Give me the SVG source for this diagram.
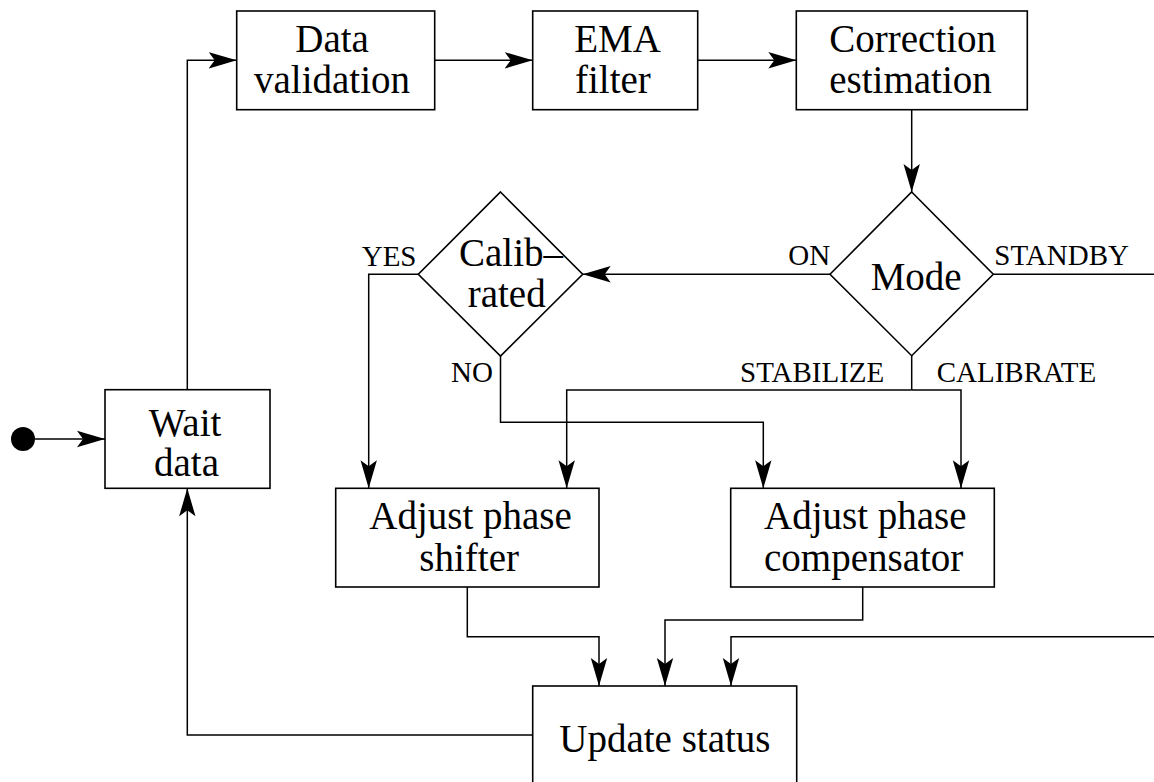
<svg xmlns="http://www.w3.org/2000/svg" width="1154" height="782" viewBox="0 0 1154 782">
<defs>
<style>
.box{fill:#fff;stroke:#000;stroke-width:1.6}
.t{font-family:"Liberation Serif","Times New Roman",serif;font-size:39px;fill:#000}
.l{font-family:"Liberation Serif","Times New Roman",serif;font-size:29px;fill:#000}
.c{fill:none;stroke:#000;stroke-width:1.5}
.a{marker-end:url(#arr)}
</style>
<marker id="arr" markerUnits="userSpaceOnUse" markerWidth="30" markerHeight="18" viewBox="0 0 30 18" refX="28" refY="9" orient="auto">
<path d="M0,0.8 L28,9 L0,17.2 L6,9 Z" fill="#000"/>
</marker>
</defs>
<rect width="1154" height="782" fill="#fff"/>
<g id="connectors">
<circle cx="23" cy="439" r="12" fill="#000"/>
<path class="c a" d="M35,439 H105"/>
<path class="c a" d="M187.3,389.7 V60.3 H236.7"/>
<path class="c a" d="M434.7,60.3 H532.7"/>
<path class="c a" d="M697.7,60.3 H796.3"/>
<path class="c a" d="M911.7,109.7 V192"/>
<path class="c a" d="M830,274.3 H582.7"/>
<path class="c" d="M993.3,274.3 H1160"/>
<path class="c a" d="M1160,636.7 H731 V686"/>
<path class="c" d="M911.7,355.7 V390"/>
<path class="c a" d="M911.7,390 H566.7 V488.3"/>
<path class="c a" d="M911.7,390 H961 V488.3"/>
<path class="c a" d="M418.3,274.3 H368.7 V488.3"/>
<path class="c a" d="M500.5,356 V422.3 H763.3 V488.3"/>
<path class="c a" d="M467.3,587 V636.7 H599 V686"/>
<path class="c a" d="M862.7,587 V620 H665 V686"/>
<path class="c a" d="M532.7,735 H187.3 V488.3"/>
<text class="l" x="361.7" y="266">YES</text>
<text class="l" x="451" y="381.7">NO</text>
<text class="l" x="788.3" y="265">ON</text>
<text class="l" x="994.3" y="265">STANDBY</text>
<text class="l" x="740" y="381.7">STABILIZE</text>
<text class="l" x="936.7" y="381.7">CALIBRATE</text>
</g>
<g id="wait">
<rect class="box" x="105" y="389.7" width="165" height="98.6"/>
<text class="t" x="148.7" y="435.5">Wait</text>
<text class="t" x="154" y="475.5">data</text>
</g>
<g id="validation">
<rect class="box" x="236.7" y="11" width="198" height="98.7"/>
<text class="t" x="295.3" y="52.3">Data</text>
<text class="t" x="254" y="92.7">validation</text>
</g>
<g id="ema">
<rect class="box" x="532.7" y="11" width="165" height="98.7"/>
<text class="t" x="574.3" y="52.3">EMA</text>
<text class="t" x="575" y="92.7">filter</text>
</g>
<g id="correction">
<rect class="box" x="796.3" y="11" width="231" height="98.7"/>
<text class="t" x="829.3" y="52.3">Correction</text>
<text class="t" x="829.3" y="92.7">estimation</text>
</g>
<g id="mode">
<path class="box" d="M911.7,192 L993.3,274.3 L911.7,355.7 L830,274.3 Z"/>
<text class="t" x="870.7" y="290">Mode</text>
</g>
<g id="calibrated">
<path class="box" d="M500.5,192 L582.7,274.3 L500.5,356 L418.3,274.3 Z"/>
<text class="t" x="459" y="266">Calib–</text>
<text class="t" x="467.7" y="306.7">rated</text>
</g>
<g id="shifter">
<rect class="box" x="335.7" y="488.3" width="263.3" height="98.7"/>
<text class="t" x="369.3" y="529.3">Adjust phase</text>
<text class="t" x="419.3" y="570.7">shifter</text>
</g>
<g id="compensator">
<rect class="box" x="730.7" y="488.3" width="263.6" height="98.7"/>
<text class="t" x="764" y="529.3">Adjust phase</text>
<text class="t" x="764" y="570.7">compensator</text>
</g>
<g id="update">
<rect class="box" x="532.7" y="686" width="264" height="130"/>
<text class="t" x="559.3" y="751.7">Update status</text>
</g>
</svg>
